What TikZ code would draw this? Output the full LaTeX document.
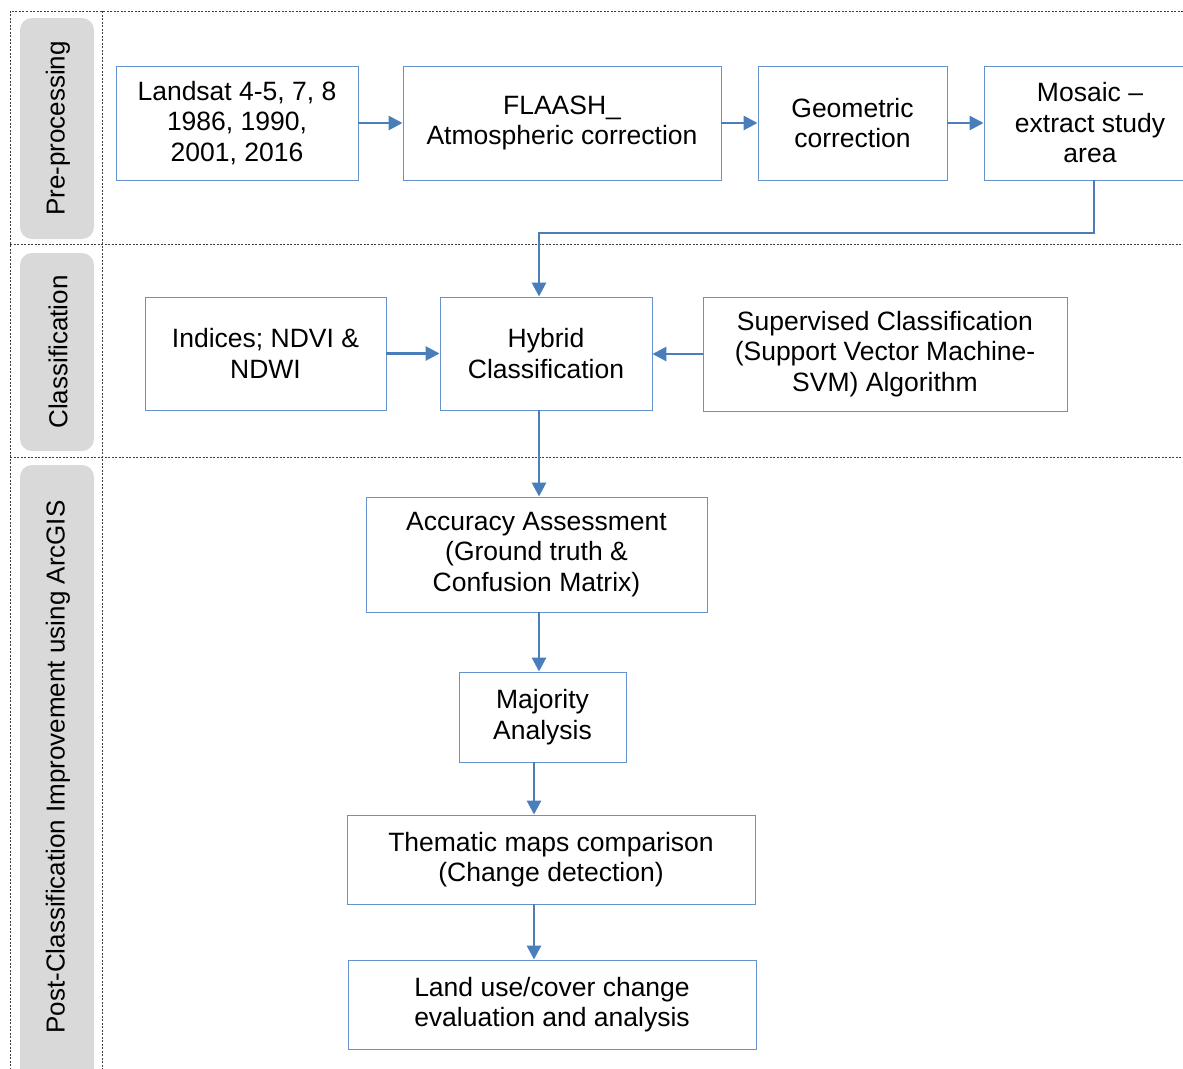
\documentclass[tikz,border=0pt]{standalone}
\usepackage{fontspec}
\setmainfont{Liberation Sans}
\usetikzlibrary{arrows.meta}
\definecolor{boxblue}{HTML}{6592CB}
\definecolor{arrowblue}{HTML}{4A7EBB}
\definecolor{lanegray}{HTML}{D9D9D9}
\definecolor{dashgray}{HTML}{404040}
\begin{document}
\begin{tikzpicture}[x=1pt,y=-1pt,
  stepbox/.style={draw=boxblue, line width=0.9pt, fill=white, align=center,
    inner sep=0pt, font=\fontsize{26.5}{30.5}\selectfont},
  flow/.style={draw=arrowblue, line width=2.8pt, -{Triangle[length=14pt,width=14pt]}},
  lane/.style={fill=lanegray, rounded corners=12pt},
  lanetext/.style={rotate=90, inner sep=0pt, font=\fontsize{26}{30}\selectfont},
  sep/.style={draw=dashgray, line width=0.9pt, dash pattern=on 2pt off 1.5pt}]
\useasboundingbox (0,0) rectangle (1183,1068);

% swimlane frame
\draw[sep] (1190,11) -- (10,11) -- (10,1075);
\draw[sep] (102,11) -- (102,1075);
\draw[sep] (10,244) -- (1190,244);
\draw[sep] (10,457) -- (1190,457);

% lane headers
\fill[lane] (20,18) rectangle (94,239);
\fill[lane] (20,253) rectangle (94,451);
\fill[lane] (20,465) rectangle (94,1090);
\node[lanetext] (lpre) at (58,128.5) {Pre-processing};
\node[lanetext] (lcls) at (58,352) {Classification};
\node[lanetext] (lpost) at (58,767) {Post-Classification Improvement using ArcGIS};

% pre-processing
\node[stepbox, minimum width=242pt, minimum height=114pt] (landsat) at (237,123)
  {Landsat 4-5, 7, 8\\1986, 1990,\\2001, 2016};
\node[stepbox, minimum width=318pt, minimum height=114pt] (flaash) at (562,123)
  {FLAASH\_\\Atmospheric correction};
\node[stepbox, minimum width=189pt, minimum height=114pt] (geo) at (852.5,123)
  {Geometric\\correction};
\node[stepbox, minimum width=212pt, minimum height=114pt] (mosaic) at (1090,123)
  {Mosaic --\\extract study\\area};

% classification
\node[stepbox, minimum width=241pt, minimum height=113pt] (indices) at (265.5,353.5)
  {Indices; NDVI \&\\NDWI};
\node[stepbox, minimum width=212pt, minimum height=113pt] (hybrid) at (546,353.5)
  {Hybrid\\Classification};
\node[stepbox, minimum width=364pt, minimum height=114pt] (svm) at (885,354)
  {Supervised Classification\\(Support Vector Machine-\\SVM) Algorithm};

% post-classification
\node[stepbox, minimum width=341pt, minimum height=115pt] (acc) at (536.5,554.5)
  {Accuracy Assessment\\(Ground truth \&\\Confusion Matrix)};
\node[stepbox, minimum width=167pt, minimum height=90pt] (maj) at (542.5,717)
  {Majority\\Analysis};
\node[stepbox, minimum width=408pt, minimum height=89pt] (them) at (551,859.5)
  {Thematic maps comparison\\(Change detection)};
\node[stepbox, minimum width=408pt, minimum height=89pt] (lulc) at (552,1004.5)
  {Land use/cover change\\evaluation and analysis};

% connector guides
\coordinate (xa) at (539,0);
\coordinate (xb) at (534,0);
\coordinate (xm) at (1094,0);
\coordinate (turn) at (539,233);

\draw[flow] (landsat.east) -- (flaash.west);
\draw[flow] (flaash.east) -- (geo.west);
\draw[flow] (geo.east) -- (mosaic.west);
\draw[flow] (mosaic.south -| xm) |- (turn) -- (turn |- hybrid.north);
\draw[flow] (indices.east) -- (indices.east -| hybrid.west);
\draw[flow] (svm.west) -- (svm.west -| hybrid.east);
\draw[flow] (hybrid.south -| xa) -- (acc.north -| xa);
\draw[flow] (acc.south -| xa) -- (maj.north -| xa);
\draw[flow] (maj.south -| xb) -- (them.north -| xb);
\draw[flow] (them.south -| xb) -- (lulc.north -| xb);
\end{tikzpicture}
\end{document}
